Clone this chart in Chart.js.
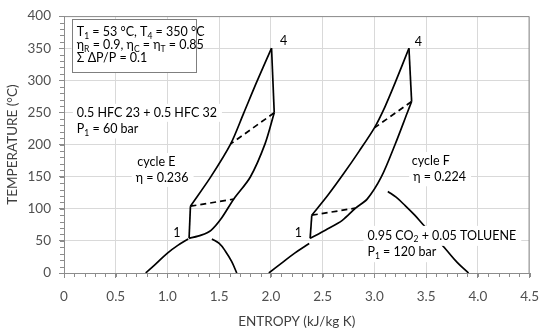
<!DOCTYPE html>
<html>
<head>
<meta charset="utf-8">
<script src="https://cdn.jsdelivr.net/npm/chart.js"></script>
<style>
  body { margin: 0; background: #fff; }
</style>
</head>
<body>
<canvas id="chart" width="550" height="336"></canvas>
<script>
// Axes
const xTicks = { min: 0, max: 4.5, step: 0.5 };
const yTicks = { min: 0, max: 400, step: 50 };

// Cycle E (0.5 HFC 23 + 0.5 HFC 32), points as [entropy, temperature]
const eCompression = [[1.209, 54], [1.222, 104]];
const eHeating = [[1.222, 104], [1.42, 150], [1.611, 201], [1.737, 249], [1.864, 298], [2.006, 350]];
const eExpansion = [[2.006, 350], [2.032, 249.5]];
const eCooling = [[2.032, 249.5], [1.943, 201], [1.801, 149.5], [1.64, 115], [1.516, 84], [1.421, 66.5], [1.326, 59], [1.209, 54]];
const eRecupLow = [[1.222, 104], [1.64, 115]];
const eRecupHigh = [[2.032, 249.5], [1.611, 201]];
const eDomeLeft = [[0.79, 0], [0.88, 13], [1.0, 31], [1.1, 43], [1.2, 53]];
const eDomeRight = [[1.43, 53], [1.5, 46], [1.56, 34], [1.62, 18], [1.67, 0]];

// Cycle F (0.95 CO2 + 0.05 toluene)
const fCompression = [[2.379, 54], [2.395, 90]];
const fHeating = [[2.395, 90], [2.55, 121], [2.7, 154], [2.85, 189], [3.0, 226], [3.1, 258], [3.2, 296], [3.334, 350]];
const fExpansion = [[3.334, 350], [3.36, 267]];
const fCooling = [[3.36, 267], [3.318, 249.5], [3.2, 200], [3.067, 149.5], [2.93, 115], [2.818, 101], [2.69, 82], [2.53, 67], [2.379, 54]];
const fRecupLow = [[2.395, 90], [2.818, 101]];
const fRecupHigh = [[3.36, 267], [3.0, 226]];
const fDomeLeft = [[1.98, 0], [2.1, 15], [2.23, 31], [2.37, 46]];
const fDomeRight = [[3.13, 127], [3.21, 118], [3.3, 104.5], [3.39, 90], [3.47, 75.5], [3.58, 57], [3.69, 37], [3.8, 16.5], [3.91, 0]];

// Text on the plot, anchored in data units
const infoBox = { s1: 0.073, t1: 395, s2: 1.27, t2: 312.8 };
const notes = [
  { text: 'T_{1} = 53 °C, T_{4} = 350 °C', s: 0.124, t: 374.6 },
  { text: 'η_{R} = 0.9, η_{C} = η_{T} = 0.85', s: 0.124, t: 354.4 },
  { text: 'Σ ΔP/P = 0.1', s: 0.124, t: 334.2 },
  { text: '0.5 HFC 23 + 0.5 HFC 32', s: 0.124, t: 249.4, bg: true },
  { text: 'P_{1} = 60 bar', s: 0.124, t: 223.6, bg: true },
  { text: 'cycle E', s: 0.708, t: 172.9, bg: true },
  { text: 'η = 0.236', s: 0.693, t: 148, bg: true },
  { text: 'cycle F', s: 3.362, t: 174.4, bg: true },
  { text: 'η = 0.224', s: 3.375, t: 149, bg: true },
  { text: '0.95 CO_{2} + 0.05 TOLUENE', s: 2.933, t: 57.8, bg: true, pad: 10 },
  { text: 'P_{1} = 120 bar', s: 2.933, t: 32.4, bg: true, pad: 10 },
  { text: '1', s: 1.09, t: 62.8, center: true },
  { text: '1', s: 2.266, t: 62.8, center: true },
  { text: '4', s: 2.123, t: 362, center: true },
  { text: '4', s: 3.425, t: 360.5, center: true }
];

const FONT = 'Lato, "Open Sans", sans-serif';
const NOTE_SIZE = 12.5;

function toXY(arr) {
  return arr.map(p => ({ x: p[0], y: p[1] }));
}

function curve(arr, dashed, tension) {
  return {
    data: toXY(arr),
    showLine: true,
    borderColor: '#000',
    borderWidth: 1.7,
    borderDash: dashed ? [6, 4] : [],
    pointRadius: 0,
    tension: tension || 0,
    fill: false
  };
}

// split "T_{1}" style text into normal / subscript pieces
function pieces(str) {
  return str.split(/(_\{[^}]*\})/).filter(p => p).map(p =>
    p.startsWith('_{') ? { txt: p.slice(2, -1), sub: true } : { txt: p, sub: false });
}

function richWidth(ctx, str, size) {
  let w = 0;
  pieces(str).forEach(p => {
    ctx.font = (p.sub ? size * 0.68 : size) + 'px ' + FONT;
    w += ctx.measureText(p.txt).width;
  });
  return w;
}

function drawRich(ctx, str, x, y, size) {
  let cx = x;
  pieces(str).forEach(p => {
    ctx.font = (p.sub ? size * 0.68 : size) + 'px ' + FONT;
    ctx.fillText(p.txt, cx, p.sub ? y + size * 0.3 : y);
    cx += ctx.measureText(p.txt).width;
  });
}

const notesPlugin = {
  id: 'notes',
  beforeDatasetsDraw(chart) {
    const { ctx, chartArea: a } = chart;
    ctx.save();
    ctx.strokeStyle = '#8c8c8c';
    ctx.lineWidth = 1;
    ctx.beginPath();
    ctx.moveTo(a.left, a.top + 0.5);
    ctx.lineTo(a.right - 0.5, a.top + 0.5);
    ctx.lineTo(a.right - 0.5, a.bottom);
    ctx.stroke();
    ctx.restore();
  },
  afterDatasetsDraw(chart) {
    const { ctx, scales: { x, y } } = chart;
    ctx.save();
    // framed info box
    const bx1 = x.getPixelForValue(infoBox.s1), by1 = y.getPixelForValue(infoBox.t1);
    const bx2 = x.getPixelForValue(infoBox.s2), by2 = y.getPixelForValue(infoBox.t2);
    ctx.fillStyle = '#fff';
    ctx.fillRect(bx1, by1, bx2 - bx1, by2 - by1);
    ctx.strokeStyle = '#7f7f7f';
    ctx.lineWidth = 1;
    ctx.strokeRect(Math.round(bx1) + 0.5, Math.round(by1) + 0.5, Math.round(bx2 - bx1), Math.round(by2 - by1));

    ctx.textBaseline = 'middle';
    ctx.textAlign = 'left';
    notes.forEach(n => {
      const w = richWidth(ctx, n.text, NOTE_SIZE);
      let px = x.getPixelForValue(n.s);
      const py = y.getPixelForValue(n.t);
      if (n.center) px -= w / 2;
      if (n.bg) {
        const pad = n.pad || 9;
        ctx.fillStyle = '#fff';
        ctx.fillRect(px - 4, py - pad, w + 9, pad * 2);
      }
      ctx.fillStyle = '#000';
      drawRich(ctx, n.text, px, py, NOTE_SIZE);
    });
    ctx.restore();
  },
  afterDraw(chart) {
    // minor tick marks
    const { ctx, chartArea: a, scales: { x, y } } = chart;
    ctx.save();
    ctx.strokeStyle = '#8c8c8c';
    ctx.lineWidth = 1;
    ctx.beginPath();
    for (let i = 0; i <= 45; i++) {
      const px = Math.round(x.getPixelForValue(i / 10)) + 0.5;
      ctx.moveTo(px, a.bottom);
      ctx.lineTo(px, a.bottom + 4);
    }
    for (let i = 0; i <= 40; i++) {
      const py = Math.round(y.getPixelForValue(i * 10)) + 0.5;
      ctx.moveTo(a.left, py);
      ctx.lineTo(a.left - 4, py);
    }
    ctx.stroke();
    ctx.restore();
  }
};

function makeChart() {
  const ctx = document.getElementById('chart');
  new Chart(ctx.getContext('2d'), {
    type: 'scatter',
    data: {
      datasets: [
        curve(eCompression), curve(eHeating, false, 0.3), curve(eExpansion), curve(eCooling, false, 0.3),
        curve(eRecupLow, true), curve(eRecupHigh, true),
        curve(eDomeLeft, false, 0.4), curve(eDomeRight, false, 0.4),
        curve(fCompression), curve(fHeating, false, 0.3), curve(fExpansion), curve(fCooling, false, 0.3),
        curve(fRecupLow, true), curve(fRecupHigh, true),
        curve(fDomeLeft, false, 0.4), curve(fDomeRight, false, 0.4)
      ]
    },
    options: {
      responsive: false,
      animation: false,
      layout: { padding: { top: 9, right: 14, left: 0, bottom: 0 } },
      plugins: { legend: { display: false }, tooltip: { enabled: false } },
      scales: {
        x: {
          type: 'linear',
          min: xTicks.min,
          max: xTicks.max,
          ticks: { stepSize: xTicks.step, color: '#505050', font: { family: FONT, size: 13.5 }, padding: 11, maxRotation: 0 },
          grid: { color: '#d9d9d9', tickColor: '#8c8c8c', tickLength: 5 },
          border: { color: '#8c8c8c' },
          title: { display: true, text: 'ENTROPY (kJ/kg K)', color: '#404040', font: { family: FONT, size: 13.5 }, padding: { top: 0, bottom: 6.5 } },
          afterFit: s => { s.height = 63; }
        },
        y: {
          min: yTicks.min,
          max: yTicks.max,
          ticks: { stepSize: yTicks.step, color: '#505050', font: { family: FONT, size: 13.5 }, padding: 8 },
          grid: { color: '#d9d9d9', tickColor: '#8c8c8c', tickLength: 5 },
          border: { color: '#8c8c8c' },
          title: { display: true, text: 'TEMPERATURE (°C)', color: '#404040', font: { family: FONT, size: 13.5 }, padding: { top: 5, bottom: 0 } },
          afterFit: s => { s.width = 64; }
        }
      }
    },
    plugins: [notesPlugin]
  });
}

window.onload = makeChart;
</script>
</body>
</html>
